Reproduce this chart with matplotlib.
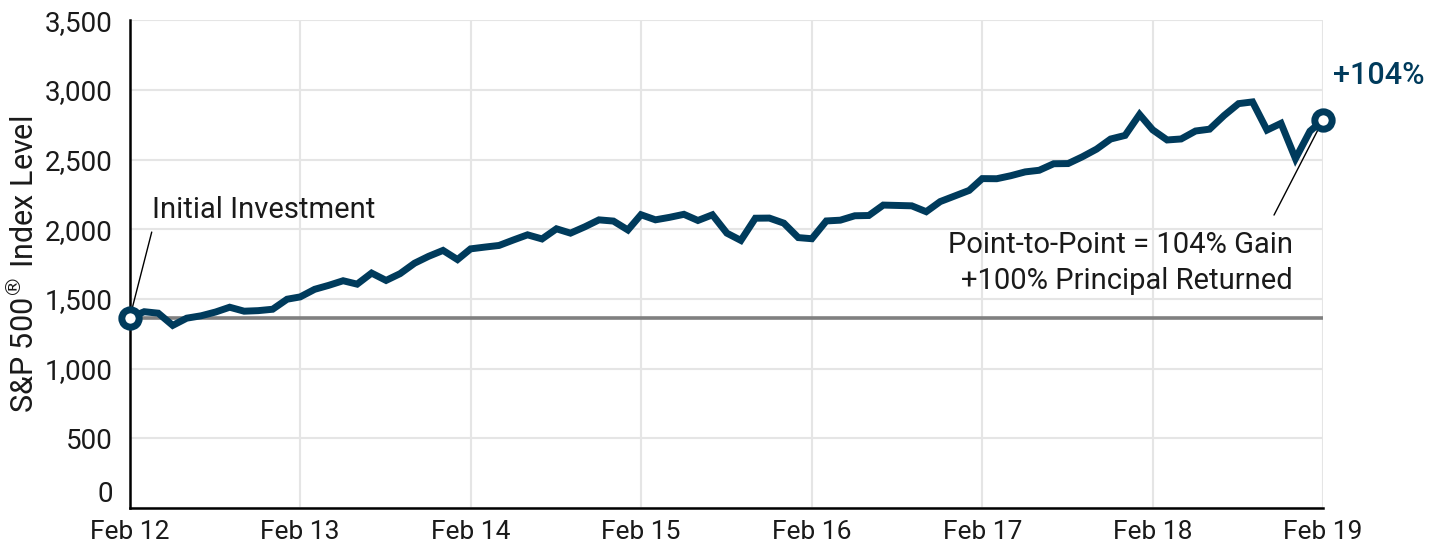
import pandas as pd
import matplotlib
matplotlib.use("Agg")
import matplotlib.pyplot as plt

# Monthly S&P 500 closes, Feb 2012 - Feb 2019
dates = pd.date_range("2012-02-29", "2019-02-28", freq="ME")
values = [
    1365.68, 1408.47, 1397.91, 1310.33, 1362.16, 1379.32, 1406.58, 1440.67, 1412.16, 1416.18, 1426.19,
    1498.11, 1514.68, 1569.19, 1597.57, 1630.74, 1606.28, 1685.73, 1632.97, 1681.55, 1756.54, 1805.81, 1848.36,
    1782.59, 1859.45, 1872.34, 1883.95, 1923.57, 1960.23, 1930.67, 2003.37, 1972.29, 2018.05, 2067.56, 2058.90,
    1994.99, 2104.50, 2067.89, 2085.51, 2107.39, 2063.11, 2103.84, 1972.18, 1920.03, 2079.36, 2080.41, 2043.94,
    1940.24, 1932.23, 2059.74, 2065.30, 2096.95, 2098.86, 2173.60, 2170.95, 2168.27, 2126.15, 2198.81, 2238.83,
    2278.87, 2363.64, 2362.72, 2384.20, 2411.80, 2423.41, 2470.30, 2471.65, 2519.36, 2575.26, 2647.58, 2673.61,
    2823.81, 2713.83, 2640.87, 2648.05, 2705.27, 2718.37, 2816.29, 2901.52, 2913.98, 2711.74, 2760.17, 2506.85,
    2704.10, 2784.49,
]
tick_labels = ["Feb 12", "Feb 13", "Feb 14", "Feb 15", "Feb 16", "Feb 17", "Feb 18", "Feb 19"]
y_ticks = [0, 500, 1000, 1500, 2000, 2500, 3000, 3500]

navy = "#003b5c"
text_col = "#1a1a1a"
plt.rcParams["font.family"] = ["Roboto", "DejaVu Sans"]

fig = plt.figure(figsize=(14.42, 5.47), dpi=100)
ax = fig.add_axes([0.090, 0.0713, 0.8275, 0.8917])

# Initial investment level
ax.plot([dates[0], dates[-1]], [values[0], values[0]], color="#808080", lw=2.6, zorder=2)
ax.plot(dates, values, color=navy, lw=5, solid_joinstyle="miter", zorder=3)
ax.plot([dates[0], dates[-1]], [values[0], values[-1]], "o", ms=12.5, mfc="white",
        mec=navy, mew=5, zorder=4, clip_on=False)

ax.set_xlim(dates[0], dates[-1])
ax.set_ylim(0, 3500)
feb_ticks = [d for d in dates if d.month == 2]
ax.set_xticks(feb_ticks)
ax.set_xticklabels(tick_labels)
ax.set_yticks(y_ticks)
ax.set_yticklabels([f"{v:,}" for v in y_ticks])
ax.tick_params(length=0, labelsize=20, labelcolor=text_col)
ax.tick_params(axis="x", pad=9, labelsize=19)
ax.tick_params(axis="y", pad=12)
ax.get_yticklabels()[0].set_va("bottom")
ax.grid(True, color="#e5e5e5", lw=1.5)
ax.set_axisbelow(True)
for s in ["top", "right"]:
    ax.spines[s].set_visible(False)
for s in ["left", "bottom"]:
    ax.spines[s].set_linewidth(1.8)
ax.set_ylabel(r"S&P 500$^{\circledR}$ Index Level", fontsize=22, color=text_col, labelpad=4)

# Annotations
start_leader = (dates[0] + pd.Timedelta(days=47), 1980)
end_leader = (dates[-1] - pd.Timedelta(days=105), 2102)
ax.annotate("", xy=(dates[0], values[0]), xytext=start_leader,
            arrowprops=dict(arrowstyle="-", color="black", lw=1, shrinkA=0, shrinkB=8))
ax.annotate("", xy=(dates[-1], values[-1]), xytext=end_leader,
            arrowprops=dict(arrowstyle="-", color="black", lw=1, shrinkA=0, shrinkB=8))
ax.text(dates[0] + pd.Timedelta(days=47), 2080, "Initial Investment",
        fontsize=21, color=text_col, ha="left", va="baseline")
ax.text(dates[-1] - pd.Timedelta(days=64), 1829, "Point-to-Point = 104% Gain",
        fontsize=21, color=text_col, ha="right", va="baseline")
ax.text(dates[-1] - pd.Timedelta(days=64), 1571, "+100% Principal Returned",
        fontsize=21, color=text_col, ha="right", va="baseline")
ax.annotate("+104%", xy=(dates[-1], values[-1]), xytext=(7, 26), textcoords="offset points",
            fontsize=22, color=navy, fontweight="medium", ha="left", va="baseline",
            annotation_clip=False)

fig.savefig("out.png", dpi=100)
